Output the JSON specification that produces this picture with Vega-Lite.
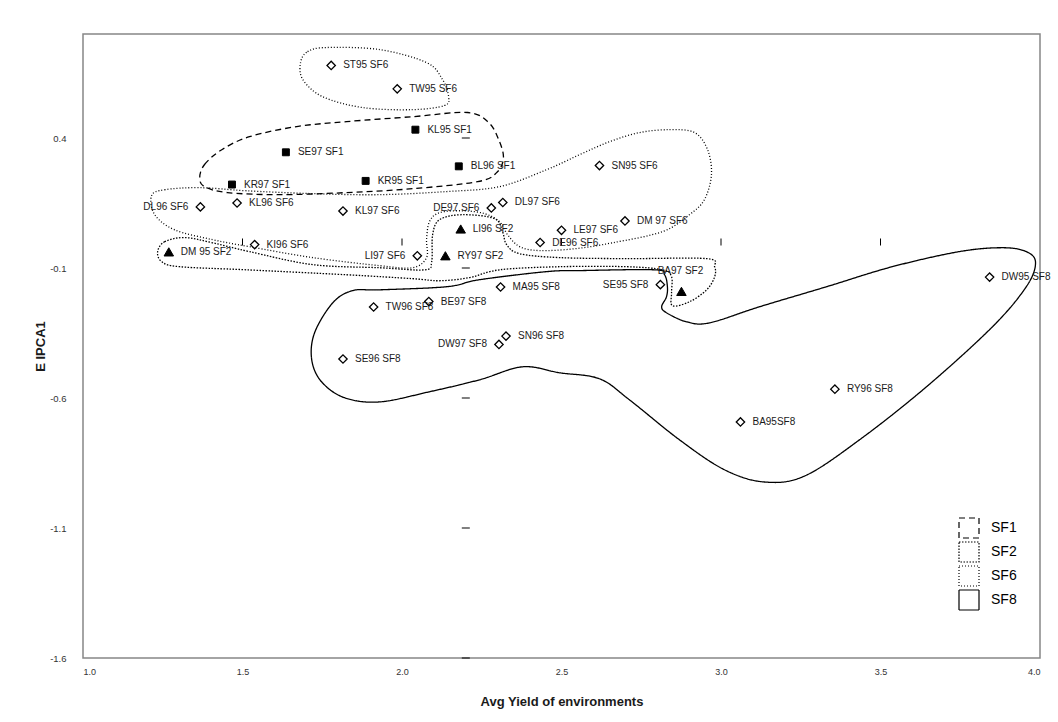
{
  "$schema": "https://vega.github.io/schema/vega-lite/v6.json",
  "width": 957,
  "height": 624,
  "autosize": "none",
  "padding": {"left": 83, "top": 34, "right": 18, "bottom": 64},
  "background": "white",
  "config": {
    "font": "Liberation Sans",
    "view": {"stroke": "#868686", "strokeWidth": 1.5},
    "axis": {"grid": false, "domain": false, "ticks": false}
  },
  "datasets": {
    "points": [
      {"name": "ST95 SF6", "grp": "SF6", "x": 1.778, "y": 0.679},
      {"name": "TW95 SF6", "grp": "SF6", "x": 1.985, "y": 0.589},
      {"name": "KL95 SF1", "grp": "SF1", "x": 2.042, "y": 0.432},
      {"name": "SE97 SF1", "grp": "SF1", "x": 1.636, "y": 0.345},
      {"name": "BL96 SF1", "grp": "SF1", "x": 2.178, "y": 0.291},
      {"name": "KR97 SF1", "grp": "SF1", "x": 1.467, "y": 0.221},
      {"name": "KR95 SF1", "grp": "SF1", "x": 1.886, "y": 0.235},
      {"name": "DL96 SF6", "grp": "SF6", "x": 1.368, "y": 0.135},
      {"name": "KL96 SF6", "grp": "SF6", "x": 1.483, "y": 0.150},
      {"name": "KL97 SF6", "grp": "SF6", "x": 1.815, "y": 0.119},
      {"name": "DE97 SF6", "grp": "SF6", "x": 2.280, "y": 0.131},
      {"name": "DL97 SF6", "grp": "SF6", "x": 2.316, "y": 0.152},
      {"name": "SN95 SF6", "grp": "SF6", "x": 2.619, "y": 0.294},
      {"name": "DM 97 SF6", "grp": "SF6", "x": 2.699, "y": 0.081},
      {"name": "LE97 SF6", "grp": "SF6", "x": 2.500, "y": 0.045},
      {"name": "DE96 SF6", "grp": "SF6", "x": 2.433, "y": -0.002},
      {"name": "KI96 SF6", "grp": "SF6", "x": 1.538, "y": -0.010},
      {"name": "LI97 SF6", "grp": "SF6", "x": 2.048, "y": -0.053},
      {"name": "LI96 SF2", "grp": "SF2", "x": 2.184, "y": 0.050},
      {"name": "DM 95 SF2", "grp": "SF2", "x": 1.269, "y": -0.038},
      {"name": "RY97 SF2", "grp": "SF2", "x": 2.136, "y": -0.053},
      {"name": "BA97 SF2", "grp": "SF2", "x": 2.876, "y": -0.190},
      {"name": "MA95 SF8", "grp": "SF8", "x": 2.309, "y": -0.173},
      {"name": "SE95 SF8", "grp": "SF8", "x": 2.810, "y": -0.164},
      {"name": "TW96 SF8", "grp": "SF8", "x": 1.911, "y": -0.250},
      {"name": "BE97 SF8", "grp": "SF8", "x": 2.084, "y": -0.229},
      {"name": "SN96 SF8", "grp": "SF8", "x": 2.326, "y": -0.362},
      {"name": "DW97 SF8", "grp": "SF8", "x": 2.304, "y": -0.394},
      {"name": "SE96 SF8", "grp": "SF8", "x": 1.815, "y": -0.450},
      {"name": "DW95 SF8", "grp": "SF8", "x": 3.842, "y": -0.135},
      {"name": "RY96 SF8", "grp": "SF8", "x": 3.357, "y": -0.566},
      {"name": "BA95SF8", "grp": "SF8", "x": 3.061, "y": -0.692}
    ],
    "contours": [
      {"cid": "c1", "set": "SF1", "i": 1, "x": 1.366, "y": 0.248},
      {"cid": "c1", "set": "SF1", "i": 2, "x": 1.381, "y": 0.298},
      {"cid": "c1", "set": "SF1", "i": 3, "x": 1.435, "y": 0.355},
      {"cid": "c1", "set": "SF1", "i": 4, "x": 1.522, "y": 0.405},
      {"cid": "c1", "set": "SF1", "i": 5, "x": 1.670, "y": 0.444},
      {"cid": "c1", "set": "SF1", "i": 6, "x": 1.826, "y": 0.463},
      {"cid": "c1", "set": "SF1", "i": 7, "x": 2.033, "y": 0.482},
      {"cid": "c1", "set": "SF1", "i": 8, "x": 2.206, "y": 0.498},
      {"cid": "c1", "set": "SF1", "i": 9, "x": 2.272, "y": 0.459},
      {"cid": "c1", "set": "SF1", "i": 10, "x": 2.303, "y": 0.394},
      {"cid": "c1", "set": "SF1", "i": 11, "x": 2.318, "y": 0.324},
      {"cid": "c1", "set": "SF1", "i": 12, "x": 2.297, "y": 0.267},
      {"cid": "c1", "set": "SF1", "i": 13, "x": 2.237, "y": 0.232},
      {"cid": "c1", "set": "SF1", "i": 14, "x": 2.033, "y": 0.205},
      {"cid": "c1", "set": "SF1", "i": 15, "x": 1.826, "y": 0.190},
      {"cid": "c1", "set": "SF1", "i": 16, "x": 1.616, "y": 0.182},
      {"cid": "c1", "set": "SF1", "i": 17, "x": 1.453, "y": 0.190},
      {"cid": "c1", "set": "SF1", "i": 18, "x": 1.381, "y": 0.213},

      {"cid": "c6a", "set": "SF6", "i": 1, "x": 1.682, "y": 0.690},
      {"cid": "c6a", "set": "SF6", "i": 2, "x": 1.704, "y": 0.732},
      {"cid": "c6a", "set": "SF6", "i": 3, "x": 1.764, "y": 0.748},
      {"cid": "c6a", "set": "SF6", "i": 4, "x": 1.930, "y": 0.740},
      {"cid": "c6a", "set": "SF6", "i": 5, "x": 2.077, "y": 0.690},
      {"cid": "c6a", "set": "SF6", "i": 6, "x": 2.127, "y": 0.625},
      {"cid": "c6a", "set": "SF6", "i": 7, "x": 2.146, "y": 0.559},
      {"cid": "c6a", "set": "SF6", "i": 8, "x": 2.133, "y": 0.525},
      {"cid": "c6a", "set": "SF6", "i": 9, "x": 2.033, "y": 0.509},
      {"cid": "c6a", "set": "SF6", "i": 10, "x": 1.877, "y": 0.517},
      {"cid": "c6a", "set": "SF6", "i": 11, "x": 1.751, "y": 0.559},
      {"cid": "c6a", "set": "SF6", "i": 12, "x": 1.689, "y": 0.625},

      {"cid": "c6b", "set": "SF6", "i": 1, "x": 1.215, "y": 0.178},
      {"cid": "c6b", "set": "SF6", "i": 2, "x": 1.256, "y": 0.201},
      {"cid": "c6b", "set": "SF6", "i": 3, "x": 1.366, "y": 0.209},
      {"cid": "c6b", "set": "SF6", "i": 4, "x": 1.513, "y": 0.197},
      {"cid": "c6b", "set": "SF6", "i": 5, "x": 1.720, "y": 0.186},
      {"cid": "c6b", "set": "SF6", "i": 6, "x": 1.930, "y": 0.182},
      {"cid": "c6b", "set": "SF6", "i": 7, "x": 2.140, "y": 0.194},
      {"cid": "c6b", "set": "SF6", "i": 8, "x": 2.306, "y": 0.213},
      {"cid": "c6b", "set": "SF6", "i": 9, "x": 2.453, "y": 0.278},
      {"cid": "c6b", "set": "SF6", "i": 10, "x": 2.557, "y": 0.336},
      {"cid": "c6b", "set": "SF6", "i": 11, "x": 2.651, "y": 0.386},
      {"cid": "c6b", "set": "SF6", "i": 12, "x": 2.745, "y": 0.421},
      {"cid": "c6b", "set": "SF6", "i": 13, "x": 2.839, "y": 0.432},
      {"cid": "c6b", "set": "SF6", "i": 14, "x": 2.917, "y": 0.421},
      {"cid": "c6b", "set": "SF6", "i": 15, "x": 2.958, "y": 0.355},
      {"cid": "c6b", "set": "SF6", "i": 16, "x": 2.970, "y": 0.259},
      {"cid": "c6b", "set": "SF6", "i": 17, "x": 2.948, "y": 0.163},
      {"cid": "c6b", "set": "SF6", "i": 18, "x": 2.901, "y": 0.105},
      {"cid": "c6b", "set": "SF6", "i": 19, "x": 2.817, "y": 0.040},
      {"cid": "c6b", "set": "SF6", "i": 20, "x": 2.660, "y": -0.003},
      {"cid": "c6b", "set": "SF6", "i": 21, "x": 2.541, "y": -0.026},
      {"cid": "c6b", "set": "SF6", "i": 22, "x": 2.431, "y": -0.033},
      {"cid": "c6b", "set": "SF6", "i": 23, "x": 2.369, "y": -0.018},
      {"cid": "c6b", "set": "SF6", "i": 24, "x": 2.331, "y": 0.028},
      {"cid": "c6b", "set": "SF6", "i": 25, "x": 2.306, "y": 0.078},
      {"cid": "c6b", "set": "SF6", "i": 26, "x": 2.259, "y": 0.109},
      {"cid": "c6b", "set": "SF6", "i": 27, "x": 2.190, "y": 0.120},
      {"cid": "c6b", "set": "SF6", "i": 28, "x": 2.118, "y": 0.113},
      {"cid": "c6b", "set": "SF6", "i": 29, "x": 2.086, "y": 0.078},
      {"cid": "c6b", "set": "SF6", "i": 30, "x": 2.077, "y": 0.009},
      {"cid": "c6b", "set": "SF6", "i": 31, "x": 2.077, "y": -0.060},
      {"cid": "c6b", "set": "SF6", "i": 32, "x": 2.033, "y": -0.099},
      {"cid": "c6b", "set": "SF6", "i": 33, "x": 1.930, "y": -0.091},
      {"cid": "c6b", "set": "SF6", "i": 34, "x": 1.720, "y": -0.060},
      {"cid": "c6b", "set": "SF6", "i": 35, "x": 1.522, "y": -0.018},
      {"cid": "c6b", "set": "SF6", "i": 36, "x": 1.406, "y": 0.009},
      {"cid": "c6b", "set": "SF6", "i": 37, "x": 1.287, "y": 0.047},
      {"cid": "c6b", "set": "SF6", "i": 38, "x": 1.225, "y": 0.105},

      {"cid": "c2", "set": "SF2", "i": 1, "x": 1.234, "y": -0.037},
      {"cid": "c2", "set": "SF2", "i": 2, "x": 1.256, "y": 0.001},
      {"cid": "c2", "set": "SF2", "i": 3, "x": 1.319, "y": 0.017},
      {"cid": "c2", "set": "SF2", "i": 4, "x": 1.406, "y": -0.003},
      {"cid": "c2", "set": "SF2", "i": 5, "x": 1.522, "y": -0.037},
      {"cid": "c2", "set": "SF2", "i": 6, "x": 1.720, "y": -0.087},
      {"cid": "c2", "set": "SF2", "i": 7, "x": 1.930, "y": -0.099},
      {"cid": "c2", "set": "SF2", "i": 8, "x": 2.071, "y": -0.107},
      {"cid": "c2", "set": "SF2", "i": 9, "x": 2.093, "y": -0.076},
      {"cid": "c2", "set": "SF2", "i": 10, "x": 2.096, "y": 0.028},
      {"cid": "c2", "set": "SF2", "i": 11, "x": 2.118, "y": 0.086},
      {"cid": "c2", "set": "SF2", "i": 12, "x": 2.190, "y": 0.105},
      {"cid": "c2", "set": "SF2", "i": 13, "x": 2.290, "y": 0.090},
      {"cid": "c2", "set": "SF2", "i": 14, "x": 2.315, "y": 0.040},
      {"cid": "c2", "set": "SF2", "i": 15, "x": 2.328, "y": -0.010},
      {"cid": "c2", "set": "SF2", "i": 16, "x": 2.369, "y": -0.045},
      {"cid": "c2", "set": "SF2", "i": 17, "x": 2.494, "y": -0.060},
      {"cid": "c2", "set": "SF2", "i": 18, "x": 2.704, "y": -0.064},
      {"cid": "c2", "set": "SF2", "i": 19, "x": 2.955, "y": -0.064},
      {"cid": "c2", "set": "SF2", "i": 20, "x": 2.980, "y": -0.095},
      {"cid": "c2", "set": "SF2", "i": 21, "x": 2.980, "y": -0.134},
      {"cid": "c2", "set": "SF2", "i": 22, "x": 2.955, "y": -0.184},
      {"cid": "c2", "set": "SF2", "i": 23, "x": 2.901, "y": -0.230},
      {"cid": "c2", "set": "SF2", "i": 24, "x": 2.848, "y": -0.245},
      {"cid": "c2", "set": "SF2", "i": 25, "x": 2.845, "y": -0.195},
      {"cid": "c2", "set": "SF2", "i": 26, "x": 2.845, "y": -0.134},
      {"cid": "c2", "set": "SF2", "i": 27, "x": 2.817, "y": -0.107},
      {"cid": "c2", "set": "SF2", "i": 28, "x": 2.704, "y": -0.095},
      {"cid": "c2", "set": "SF2", "i": 29, "x": 2.494, "y": -0.095},
      {"cid": "c2", "set": "SF2", "i": 30, "x": 2.306, "y": -0.107},
      {"cid": "c2", "set": "SF2", "i": 31, "x": 2.212, "y": -0.137},
      {"cid": "c2", "set": "SF2", "i": 32, "x": 2.118, "y": -0.149},
      {"cid": "c2", "set": "SF2", "i": 33, "x": 2.033, "y": -0.141},
      {"cid": "c2", "set": "SF2", "i": 34, "x": 1.826, "y": -0.126},
      {"cid": "c2", "set": "SF2", "i": 35, "x": 1.513, "y": -0.107},
      {"cid": "c2", "set": "SF2", "i": 36, "x": 1.303, "y": -0.095},
      {"cid": "c2", "set": "SF2", "i": 37, "x": 1.247, "y": -0.076},

      {"cid": "c8", "set": "SF8", "i": 1, "x": 1.783, "y": -0.234},
      {"cid": "c8", "set": "SF8", "i": 2, "x": 1.845, "y": -0.187},
      {"cid": "c8", "set": "SF8", "i": 3, "x": 1.930, "y": -0.184},
      {"cid": "c8", "set": "SF8", "i": 4, "x": 2.140, "y": -0.172},
      {"cid": "c8", "set": "SF8", "i": 5, "x": 2.243, "y": -0.145},
      {"cid": "c8", "set": "SF8", "i": 6, "x": 2.453, "y": -0.114},
      {"cid": "c8", "set": "SF8", "i": 7, "x": 2.557, "y": -0.110},
      {"cid": "c8", "set": "SF8", "i": 8, "x": 2.792, "y": -0.107},
      {"cid": "c8", "set": "SF8", "i": 9, "x": 2.823, "y": -0.126},
      {"cid": "c8", "set": "SF8", "i": 10, "x": 2.832, "y": -0.172},
      {"cid": "c8", "set": "SF8", "i": 11, "x": 2.829, "y": -0.211},
      {"cid": "c8", "set": "SF8", "i": 12, "x": 2.814, "y": -0.249},
      {"cid": "c8", "set": "SF8", "i": 13, "x": 2.829, "y": -0.272},
      {"cid": "c8", "set": "SF8", "i": 14, "x": 2.892, "y": -0.307},
      {"cid": "c8", "set": "SF8", "i": 15, "x": 2.964, "y": -0.311},
      {"cid": "c8", "set": "SF8", "i": 16, "x": 3.121, "y": -0.249},
      {"cid": "c8", "set": "SF8", "i": 17, "x": 3.331, "y": -0.172},
      {"cid": "c8", "set": "SF8", "i": 18, "x": 3.537, "y": -0.095},
      {"cid": "c8", "set": "SF8", "i": 19, "x": 3.747, "y": -0.037},
      {"cid": "c8", "set": "SF8", "i": 20, "x": 3.882, "y": -0.022},
      {"cid": "c8", "set": "SF8", "i": 21, "x": 3.957, "y": -0.037},
      {"cid": "c8", "set": "SF8", "i": 22, "x": 3.986, "y": -0.080},
      {"cid": "c8", "set": "SF8", "i": 23, "x": 3.957, "y": -0.172},
      {"cid": "c8", "set": "SF8", "i": 24, "x": 3.851, "y": -0.326},
      {"cid": "c8", "set": "SF8", "i": 25, "x": 3.644, "y": -0.557},
      {"cid": "c8", "set": "SF8", "i": 26, "x": 3.434, "y": -0.761},
      {"cid": "c8", "set": "SF8", "i": 27, "x": 3.262, "y": -0.900},
      {"cid": "c8", "set": "SF8", "i": 28, "x": 3.136, "y": -0.923},
      {"cid": "c8", "set": "SF8", "i": 29, "x": 3.011, "y": -0.876},
      {"cid": "c8", "set": "SF8", "i": 30, "x": 2.870, "y": -0.761},
      {"cid": "c8", "set": "SF8", "i": 31, "x": 2.713, "y": -0.607},
      {"cid": "c8", "set": "SF8", "i": 32, "x": 2.619, "y": -0.526},
      {"cid": "c8", "set": "SF8", "i": 33, "x": 2.494, "y": -0.503},
      {"cid": "c8", "set": "SF8", "i": 34, "x": 2.378, "y": -0.480},
      {"cid": "c8", "set": "SF8", "i": 35, "x": 2.243, "y": -0.530},
      {"cid": "c8", "set": "SF8", "i": 36, "x": 2.086, "y": -0.576},
      {"cid": "c8", "set": "SF8", "i": 37, "x": 1.930, "y": -0.615},
      {"cid": "c8", "set": "SF8", "i": 38, "x": 1.820, "y": -0.599},
      {"cid": "c8", "set": "SF8", "i": 39, "x": 1.748, "y": -0.538},
      {"cid": "c8", "set": "SF8", "i": 40, "x": 1.717, "y": -0.453},
      {"cid": "c8", "set": "SF8", "i": 41, "x": 1.726, "y": -0.349}
    ],
    "vticks": [{"y": -1.6}, {"y": -1.1}, {"y": -0.6}, {"y": -0.1}, {"y": 0.4}],
    "hticks": [{"x": 1.5}, {"x": 2.0}, {"x": 2.5}, {"x": 3.0}, {"x": 3.5}]
  },
  "layer": [
    {
      "data": {"name": "contours"},
      "mark": {"type": "line", "interpolate": "cardinal-closed", "color": "black", "strokeWidth": 1.3},
      "encoding": {
        "x": {"field": "x", "type": "quantitative", "scale": {"domain": [1, 4], "nice": false, "zero": false},
              "axis": {"values": [1, 1.5, 2, 2.5, 3, 3.5, 4], "format": ".1f", "labelFontSize": 9, "labelColor": "#333333", "labelPadding": 9,
                       "title": "Avg Yield of environments", "titleFontSize": 13, "titleFontWeight": "bold", "titleColor": "#1a1a1a", "titleY": 37, "titleBaseline": "top"}},
        "y": {"field": "y", "type": "quantitative", "scale": {"domain": [-1.6, 0.8], "nice": false, "zero": false},
              "axis": {"values": [-1.6, -1.1, -0.6, -0.1, 0.4], "format": ".1f", "labelExpr": "replace(datum.label, '\u2212', '-')", "labelFontSize": 9.5, "labelColor": "#333333", "labelPadding": 17,
                       "title": "E IPCA1", "titleFontSize": 13, "titleFontWeight": "bold", "titleColor": "#1a1a1a", "titleX": -43, "titleY": 312, "titleAngle": 270, "titleBaseline": "middle", "titleAlign": "center"}},
        "detail": {"field": "cid"},
        "order": {"field": "i", "type": "quantitative"},
        "strokeDash": {"field": "set", "type": "nominal",
          "scale": {"domain": ["SF1", "SF2", "SF6", "SF8"], "range": [[6, 4], [1.5, 1.5], [1, 2], [1, 0]]},
          "legend": {"title": null, "orient": "none", "legendX": 875, "legendY": 483, "padding": 0,
                     "symbolType": "square", "symbolSize": 400, "symbolFillColor": "white", "symbolStrokeColor": "black", "symbolStrokeWidth": 1.2,
                     "labelFontSize": 14, "labelColor": "black", "labelOffset": 11, "rowPadding": -2}}
      }
    },
    {
      "mark": {"type": "rule", "color": "black", "strokeWidth": 1},
      "encoding": {"y": {"datum": 0}}
    },
    {
      "mark": {"type": "rule", "color": "black", "strokeWidth": 1},
      "encoding": {"x": {"datum": 2.2}}
    },
    {
      "data": {"name": "vticks"},
      "mark": {"type": "tick", "orient": "horizontal", "size": 8, "thickness": 1, "color": "black", "opacity": 1},
      "encoding": {"x": {"datum": 2.2}, "y": {"field": "y", "type": "quantitative"}}
    },
    {
      "data": {"name": "hticks"},
      "mark": {"type": "tick", "orient": "vertical", "size": 7, "thickness": 1, "color": "black", "opacity": 1},
      "encoding": {"y": {"datum": 0}, "x": {"field": "x", "type": "quantitative"}}
    },
    {
      "data": {"name": "points"},
      "transform": [{"filter": "datum.grp === 'SF1'"}],
      "mark": {"type": "point", "shape": "square", "filled": true, "fill": "black", "stroke": "black", "strokeWidth": 1, "size": 48, "opacity": 1},
      "encoding": {"x": {"field": "x", "type": "quantitative"}, "y": {"field": "y", "type": "quantitative"}}
    },
    {
      "data": {"name": "points"},
      "transform": [{"filter": "datum.grp === 'SF2'"}],
      "mark": {"type": "point", "shape": "triangle-up", "filled": true, "fill": "black", "stroke": "black", "strokeWidth": 1, "size": 90, "opacity": 1},
      "encoding": {"x": {"field": "x", "type": "quantitative"}, "y": {"field": "y", "type": "quantitative"}}
    },
    {
      "data": {"name": "points"},
      "transform": [{"filter": "datum.grp === 'SF6' || datum.grp === 'SF8'"}],
      "mark": {"type": "point", "shape": "diamond", "filled": true, "fill": "white", "stroke": "black", "strokeWidth": 1.3, "size": 70, "opacity": 1},
      "encoding": {"x": {"field": "x", "type": "quantitative"}, "y": {"field": "y", "type": "quantitative"}}
    },
    {
      "data": {"name": "points"},
      "transform": [{"filter": {"not": {"field": "name", "oneOf": ["DL96 SF6", "DE97 SF6", "LI97 SF6", "SE95 SF8", "DW97 SF8", "BA97 SF2"]}}}],
      "mark": {"type": "text", "align": "left", "baseline": "middle", "dx": 12, "fontSize": 10, "color": "#1a1a1a"},
      "encoding": {"x": {"field": "x", "type": "quantitative"}, "y": {"field": "y", "type": "quantitative"}, "text": {"field": "name"}}
    },
    {
      "data": {"name": "points"},
      "transform": [{"filter": {"field": "name", "oneOf": ["DL96 SF6", "DE97 SF6", "LI97 SF6", "SE95 SF8", "DW97 SF8"]}}],
      "mark": {"type": "text", "align": "right", "baseline": "middle", "dx": -12, "fontSize": 10, "color": "#1a1a1a"},
      "encoding": {"x": {"field": "x", "type": "quantitative"}, "y": {"field": "y", "type": "quantitative"}, "text": {"field": "name"}}
    },
    {
      "data": {"name": "points"},
      "transform": [{"filter": {"field": "name", "oneOf": ["BA97 SF2"]}}],
      "mark": {"type": "text", "align": "center", "baseline": "middle", "dx": -1, "dy": -20, "fontSize": 10, "color": "#1a1a1a"},
      "encoding": {"x": {"field": "x", "type": "quantitative"}, "y": {"field": "y", "type": "quantitative"}, "text": {"field": "name"}}
    }
  ]
}
